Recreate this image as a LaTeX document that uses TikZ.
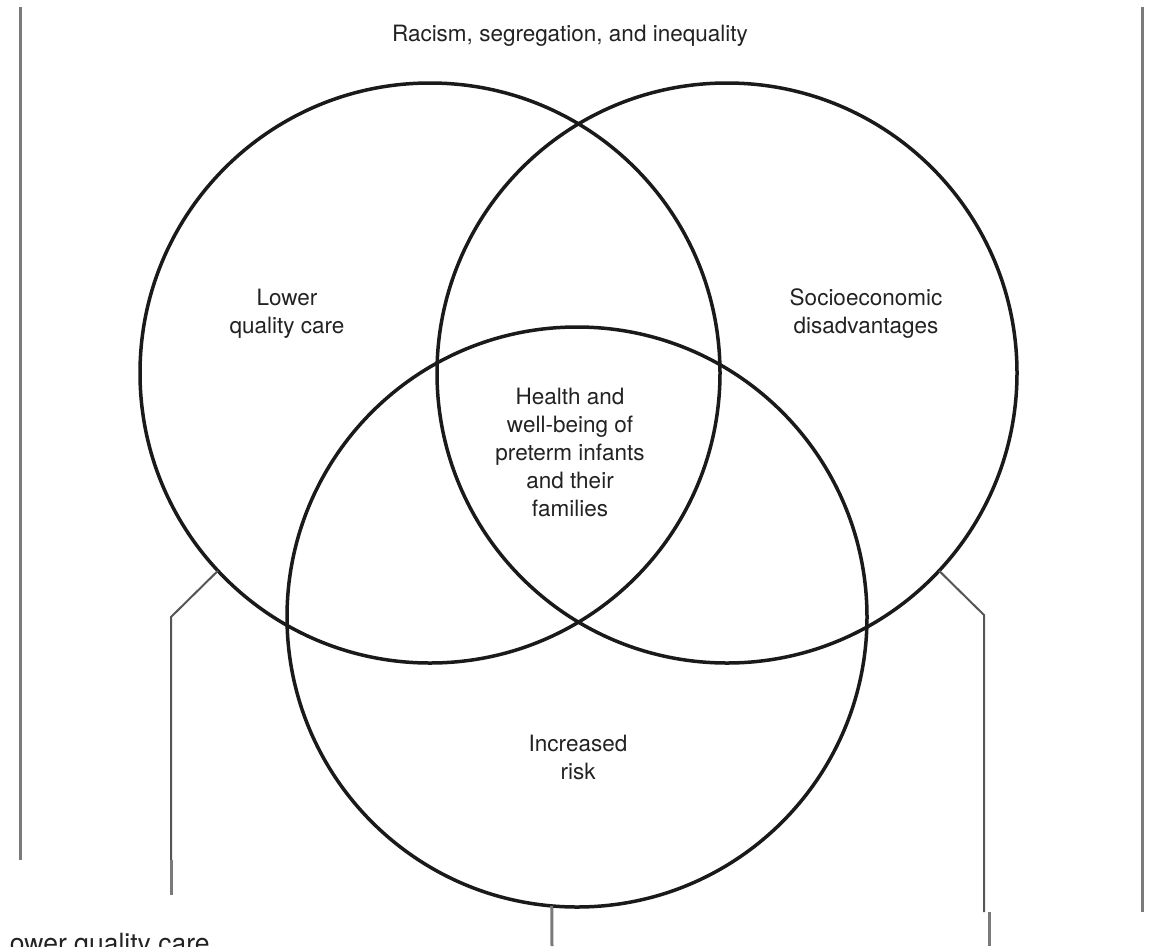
\documentclass[tikz,border=0pt]{standalone}
\usepackage{fontspec}
\setmainfont{TeX Gyre Heros}
\definecolor{ink}{HTML}{1A1A1A}
\definecolor{txt}{HTML}{222222}
\definecolor{conn}{HTML}{555555}
\definecolor{frame}{HTML}{7A7A7C}
\begin{document}
\begin{tikzpicture}[x=1pt,y=-1pt,
  venn/.style={circle,draw=ink,line width=3.5pt,minimum size=580pt,inner sep=0pt,outer sep=0pt},
  lbl/.style={text=txt,font=\fontsize{22.5}{28}\selectfont,align=center,inner sep=0pt},
  connline/.style={draw=conn,line width=2pt},
  stub/.style={draw=frame,line width=3pt},
  frameline/.style={draw=frame,line width=3pt}]
\useasboundingbox (0,0) rectangle (1159,946);
\clip (0,0) rectangle (1159,946);
% frame lines
\coordinate (flt) at (20,7);
\coordinate (flb) at (20,860);
\coordinate (frt) at (1142,7);
\coordinate (frb) at (1142,912);
\draw[frameline] (flt) -- (flb);
\draw[frameline] (frt) -- (frb);
% circles
\node[venn] (L) at (430,373) {};
\node[venn] (R) at (727,373) {};
\node[venn] (B) at (577,617) {};
% labels
\node[lbl] (top) at (570,36) {Racism, segregation, and inequality};
\node[lbl] (lq) at (287,314) {Lower\\quality care};
\node[lbl] (se) at (866,314) {Socioeconomic\\disadvantages};
\node[lbl] (hw) at (570,452) {Health and\\well-being of\\preterm infants\\and their\\families};
\node[lbl] (ir) at (578,757) {Increased\\risk};
\node[text=txt,font=\fontsize{26.5}{30}\selectfont,anchor=base west,inner sep=0pt] (bt) at (-5,952) {Lower quality care};
% connectors
\coordinate (lk) at (171,617);
\coordinate (lb) at (171,860);
\coordinate (le) at (171,895);
\draw[connline] (L.223) -- (lk) -- (lb);
\draw[stub] (lb) -- (le);
\coordinate (rk) at (984,615);
\coordinate (rb) at (984,912);
\coordinate (rs) at (989,912);
\coordinate (re) at (989,946);
\draw[connline] (R.-43) -- (rk) -- (rb);
\draw[stub] (rs) -- (re);
\coordinate (me) at (552,946);
\draw[stub] (B.265) -- (me);
\end{tikzpicture}
\end{document}
